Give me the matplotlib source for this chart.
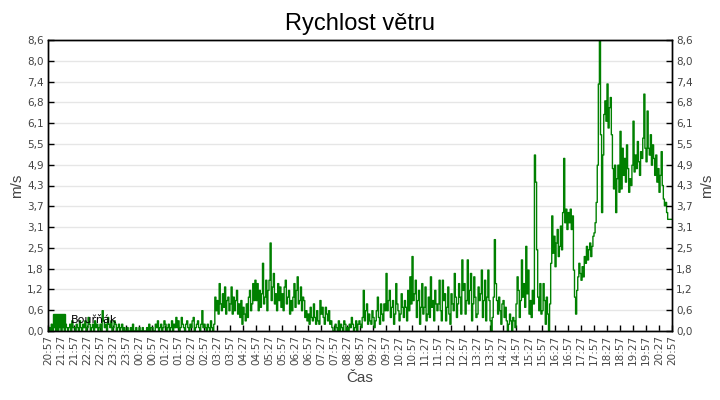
import matplotlib
matplotlib.use("Agg")
import matplotlib.pyplot as plt
from matplotlib.lines import Line2D
from matplotlib.ticker import FixedLocator, FuncFormatter
import pandas as pd
import numpy as np

title = "Rychlost větru"
series_name = "Bouřňák"
y_label = "m/s"
x_label = "Čas"
start_time = "2024-01-01 20:57"
step_minutes = 2.5
y_max = 8.6

# wind speed (m/s), one value every 2.5 minutes, one row per hour
wind = (
    [0, 0.1, 0, 0.2, 0, 0.1, 0.2, 0, 0.1, 0, 0.3, 0.1, 0, 0.2, 0.1, 0, 0.2, 0.1, 0, 0.1, 0.2, 0, 0.3, 0.1] +
    [0.1, 0, 0.2, 0.1, 0, 0.3, 0.1, 0, 0.2, 0.1, 0.3, 0, 0.1, 0.4, 0.2, 0, 0.1, 0.2, 0, 0.3, 0.1, 0.2, 0, 0.1] +
    [0.2, 0, 0.6, 0.3, 0.1, 0.2, 0, 0.4, 0.2, 0.1, 0.3, 0, 0.1, 0.3, 0.2, 0, 0.1, 0.2, 0, 0.1, 0.2, 0, 0.1, 0] +
    [0, 0.1, 0, 0, 0.1, 0, 0.2, 0, 0, 0.1, 0, 0, 0.1, 0, 0, 0.1, 0, 0, 0, 0.1, 0, 0.2, 0, 0.1] +
    [0.1, 0, 0, 0.2, 0.1, 0.3, 0, 0.1, 0.2, 0, 0.1, 0.3, 0.2, 0, 0.1, 0.2, 0, 0.1, 0.3, 0, 0.2, 0.1, 0.4, 0.1] +
    [0.3, 0, 0.1, 0.4, 0.2, 0.1, 0, 0.2, 0.3, 0.1, 0, 0.2, 0.1, 0.3, 0.4, 0, 0.1, 0.2, 0.3, 0.1, 0, 0.2, 0.6, 0.1] +
    [0.2, 0.1, 0, 0.2, 0.1, 0, 0.3, 0.1, 0, 0.2, 1.0, 0.6, 0.9, 0.5, 1.4, 0.8, 0.6, 1.1, 0.7, 1.3, 0.5, 0.9, 1.0, 0.6] +
    [0.8, 1.3, 0.5, 1.0, 0.6, 0.9, 1.2, 0.5, 0.8, 0.4, 0.9, 0.2, 0.7, 0.5, 0.3, 0.8, 0.4, 1.0, 1.2, 0.6, 0.8, 1.4, 0.9, 1.5] +
    [0.9, 1.4, 0.6, 1.2, 0.7, 1.1, 2.0, 0.8, 1.0, 1.5, 0.6, 1.2, 1.5, 2.6, 0.9, 1.3, 1.7, 0.8, 1.1, 0.6, 1.4, 0.9, 1.3, 0.7] +
    [1.1, 0.6, 1.3, 1.5, 0.8, 1.0, 1.2, 0.5, 0.9, 0.6, 1.0, 1.4, 0.7, 1.2, 1.6, 0.8, 0.9, 1.3, 0.6, 1.0, 0.9, 0.4, 0.6, 0.3] +
    [0.5, 0.2, 0.7, 0.4, 0.3, 0.8, 0.4, 0.2, 0.6, 0.3, 0.2, 0.9, 0.5, 0.7, 0.4, 0.2, 0.7, 0.5, 0.3, 0.6, 0.2, 0.3, 0.1, 0] +
    [0, 0.2, 0.1, 0, 0.3, 0, 0.2, 0.1, 0, 0.3, 0.2, 0, 0.1, 0, 0.2, 0.1, 0.4, 0.2, 0, 0.1, 0.3, 0, 0.2, 0.3] +
    [0.2, 0.1, 0.4, 1.2, 0.3, 0.6, 0.8, 0.2, 0.5, 0.3, 0.2, 0.6, 0.4, 0.1, 0.3, 0.6, 1.0, 0.4, 0.2, 0.8, 0.5, 0.3, 0.8, 0.6] +
    [1.7, 0.6, 0.9, 1.2, 0.4, 0.7, 0.9, 0.2, 0.5, 1.4, 0.8, 0.6, 0.3, 0.5, 1.1, 0.7, 0.4, 0.9, 0.7, 0.3, 1.2, 0.6, 1.6, 0.8] +
    [2.2, 0.9, 1.1, 1.5, 0.4, 0.9, 1.2, 0.2, 0.7, 1.4, 0.5, 0.7, 1.3, 0.3, 0.5, 1.0, 0.4, 1.6, 0.7, 0.9, 0.3, 1.2, 0.8, 0.6] +
    [0.8, 1.5, 0.6, 0.3, 1.5, 0.9, 1.1, 0.3, 0.7, 1.3, 0.5, 0.2, 1.1, 0.8, 0.6, 1.7, 1.0, 0.4, 0.8, 1.4, 1.0, 0.5, 2.1, 1.2] +
    [1.4, 0.5, 0.9, 2.1, 0.8, 1.2, 1.7, 0.3, 0.8, 1.6, 1.0, 0.4, 0.5, 1.3, 0.9, 1.1, 1.8, 0.4, 0.9, 1.5, 0.3, 1.0, 1.8, 0.9] +
    [0.3, 0, 0.4, 1.0, 2.7, 1.4, 0.9, 0.5, 1.0, 0.6, 0.2, 0.8, 0.9, 0.4, 0.7, 0.3, 0, 0.2, 0.5, 0.3, 0, 0.4, 0.3, 0.1] +
    [0.8, 1.6, 1.2, 0.4, 0.9, 2.1, 1.0, 1.4, 0.7, 2.5, 1.1, 1.8, 0.5, 0.9, 0.4, 1.2, 0.8, 5.2, 4.4, 2.4, 1.0, 0.6, 1.4, 0.5] +
    [0.6, 1.4, 0.9, 0.2, 1.0, 0.5, 0, 0.8, 2.0, 3.4, 2.3, 2.8, 1.9, 2.6, 3.0, 2.2, 2.5, 3.1, 2.4, 3.5, 5.1, 3.2, 3.6, 3.0] +
    [3.5, 3.2, 3.6, 3.0, 3.4, 1.8, 1.0, 0.5, 1.2, 1.6, 2.0, 1.7, 1.5, 1.9, 1.6, 2.2, 2.0, 2.5, 2.1, 2.4, 2.6, 2.2, 2.5, 2.8] +
    [2.9, 3.2, 3.8, 4.9, 7.3, 8.6, 5.8, 3.5, 5.2, 6.4, 6.8, 6.2, 7.3, 6.0, 6.6, 6.9, 5.8, 4.8, 4.2, 4.9, 3.5, 4.5, 4.9, 4.1] +
    [5.9, 4.2, 5.4, 4.6, 5.1, 4.4, 5.5, 4.8, 4.1, 4.5, 4.3, 4.9, 6.2, 4.7, 5.2, 4.8, 5.6, 5.0, 4.6, 5.3, 5.1, 5.7, 7.0, 5.4] +
    [5.0, 6.5, 5.4, 5.2, 5.8, 4.9, 5.5, 5.1, 4.6, 5.2, 4.4, 4.8, 4.1, 4.6, 5.3, 4.3, 3.9, 3.7, 3.8, 3.5, 3.3, 3.3, 3.3, 3.3] +
    [3.3]
)

minutes = np.arange(len(wind)) * step_minutes
tick_minutes = np.arange(0, 24 * 60 + 1, 30)
tick_labels = [(pd.Timestamp(start_time) + pd.Timedelta(minutes=int(m))).strftime("%H:%M")
               for m in tick_minutes]
y_ticks = [y_max * i / 14 for i in range(15)]

fig = plt.figure(figsize=(7.2, 4.0), dpi=100)
ax = fig.add_axes([48 / 720, 1 - 331 / 400, 624 / 720, 291 / 400])

green = "#008000"
ax.plot(minutes, wind, color=green, linewidth=1.0, drawstyle="steps-post")

ax.set_xlim(0, 24 * 60)
ax.set_ylim(0, y_max)

ax.xaxis.set_major_locator(FixedLocator(tick_minutes))
ax.set_xticklabels(tick_labels, rotation=90, fontsize=7.5, color="#444444",
                   family="DejaVu Sans")
ax.yaxis.set_major_locator(FixedLocator(y_ticks))
fmt = FuncFormatter(lambda v, p: f"{v:.1f}".replace(".", ","))
ax.yaxis.set_major_formatter(fmt)
ax.tick_params(axis="both", direction="in", length=4, width=1, colors="black",
               labelcolor="#444444", labelsize=7.5, pad=3)
ax.grid(axis="y", color="#e6e6e6", linewidth=1)
ax.set_axisbelow(True)

ax2 = ax.twinx()
ax2.set_ylim(0, y_max)
ax2.yaxis.set_major_locator(FixedLocator(y_ticks))
ax2.yaxis.set_major_formatter(fmt)
ax2.tick_params(axis="y", direction="in", length=4, width=1, colors="black",
                labelcolor="#444444", labelsize=7.5, pad=3)
ax2.set_ylabel(y_label, fontsize=11, color="#444444", family="Liberation Sans", labelpad=5)

for a in (ax, ax2):
    for s in a.spines.values():
        s.set_color("black")
        s.set_linewidth(1)

ax.set_ylabel(y_label, fontsize=11, color="#444444", family="Liberation Sans", labelpad=2)
ax.set_xlabel(x_label, fontsize=11, color="#444444", family="Liberation Sans", labelpad=4)
fig.suptitle(title, y=0.967, fontsize=17, family="Liberation Sans", color="black")

handle = Line2D([], [], linestyle="none", marker="s", markersize=9,
                markerfacecolor=green, markeredgecolor=green)
ax.legend([handle], [series_name], loc="lower left", frameon=False,
          handletextpad=0.6, handlelength=1.0, borderaxespad=0.2, borderpad=0.3,
          prop={"family": "DejaVu Sans", "size": 8})

fig.savefig("out.png", dpi=100)
